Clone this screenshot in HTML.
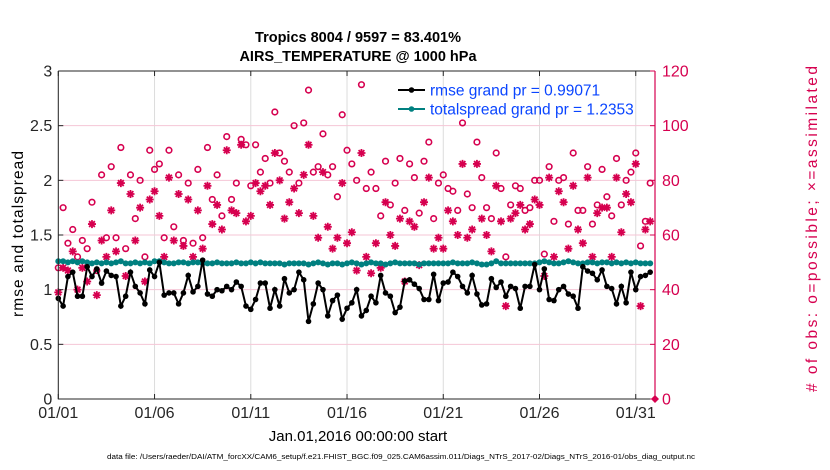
<!DOCTYPE html>
<html><head><meta charset="utf-8"><style>
body{margin:0;background:#fff;}
svg{display:block;font-family:"Liberation Sans",Arial,sans-serif;}
</style></head><body>
<svg id="chart" width="830" height="470" viewBox="0 0 830 470" xmlns="http://www.w3.org/2000/svg">
<rect width="830" height="470" fill="#fff"/>
<g id="grid"></g>
<g id="marks"></g>
<g id="axes"></g>
<text x="358" y="42" text-anchor="middle" font-size="14.5" font-weight="bold">Tropics 8004 / 9597 = 83.401%</text>
<text x="358" y="61" text-anchor="middle" font-size="14.5" font-weight="bold">AIRS_TEMPERATURE @ 1000 hPa</text>
<text transform="translate(23,234) rotate(-90)" text-anchor="middle" font-size="15.5" textLength="166" lengthAdjust="spacing">rmse and totalspread</text>
<text transform="translate(817,229) rotate(-90)" text-anchor="middle" font-size="15.5" fill="#d6004f" textLength="326" lengthAdjust="spacing"># of obs: o=possible; ×=assimilated</text>
<text x="358" y="441" text-anchor="middle" font-size="15">Jan.01,2016 00:00:00 start</text>
<text x="401" y="459" text-anchor="middle" font-size="7" textLength="588" lengthAdjust="spacingAndGlyphs">data file: /Users/raeder/DAI/ATM_forcXX/CAM6_setup/f.e21.FHIST_BGC.f09_025.CAM6assim.011/Diags_NTrS_2017-02/Diags_NTrS_2016-01/obs_diag_output.nc</text>
<g>
<line x1="398" y1="90" x2="425" y2="90" stroke="#000" stroke-width="2"/>
<circle cx="411.5" cy="90" r="2.8" fill="#000"/>
<text x="430" y="95.5" font-size="15.5" fill="#0a45ff">rmse grand pr = 0.99071</text>
<line x1="398" y1="109" x2="425" y2="109" stroke="#008080" stroke-width="2"/>
<circle cx="411.5" cy="109" r="2.8" fill="#008080"/>
<text x="430" y="114.5" font-size="15.5" fill="#0a45ff">totalspread grand pr = 1.2353</text>
</g>
</svg>
<script>
const rmse=[0.92,0.85,1.12,1.16,0.94,0.94,1.21,1.12,1.19,1.06,1.17,1.13,1.12,0.85,0.94,1.16,1.03,0.97,0.87,1.18,1.12,1.25,0.95,0.97,0.97,0.87,0.97,1.13,0.98,1.03,1.27,0.96,0.94,1.00,0.99,1.03,1.00,1.07,1.03,0.85,
0.82,0.91,1.06,1.06,0.83,1.00,0.85,1.10,0.97,1.00,1.16,1.09,0.71,0.87,1.06,1.00,0.76,0.90,0.95,0.73,0.83,0.88,1.00,0.76,0.81,0.94,0.88,1.13,0.97,0.94,0.79,0.84,1.08,1.09,1.05,1.01,0.91,0.91,1.14,0.90,1.06,1.07,1.16,1.12,
1.03,0.97,1.13,0.96,0.86,0.87,1.10,1.02,1.07,0.94,1.03,1.01,0.83,1.03,1.03,1.23,1.00,1.19,0.91,0.90,1.00,1.03,0.96,0.94,0.83,1.21,1.17,1.15,1.09,1.18,1.03,1.01,0.87,1.03,0.88,1.16,1.00,1.12,1.13,1.16];
const spread=[1.26,1.26,1.25,1.26,1.25,1.26,1.25,1.24,1.25,1.24,1.25,1.24,1.25,1.26,1.24,1.24,1.25,1.24,1.25,1.24,1.26,1.26,1.25,1.24,1.24,1.25,1.25,1.24,1.25,1.25,1.24,1.24,1.24,1.25,1.24,1.24,1.24,1.25,1.24,1.24,
1.25,1.24,1.25,1.24,1.24,1.24,1.24,1.23,1.24,1.24,1.24,1.24,1.23,1.24,1.25,1.24,1.23,1.24,1.24,1.23,1.24,1.25,1.24,1.23,1.24,1.25,1.24,1.24,1.23,1.24,1.25,1.24,1.24,1.24,1.24,1.23,1.24,1.24,1.24,1.24,1.24,1.24,1.25,1.24,
1.24,1.24,1.25,1.24,1.23,1.23,1.24,1.26,1.24,1.24,1.24,1.24,1.24,1.24,1.24,1.24,1.25,1.26,1.25,1.24,1.24,1.25,1.26,1.25,1.24,1.24,1.25,1.25,1.24,1.25,1.25,1.24,1.25,1.24,1.25,1.24,1.25,1.24,1.24,1.24];
const possible=[48,70,57,62,52,58,55,72,47,82,59,85,59,92,55,82,66,80,52,91,84,86,59,91,63,82,58,79,57,84,59,92,73,82,67,96,73,79,95,93,
78,93,83,88,79,105,90,87,83,100,79,101,113,83,85,97,82,85,74,104,91,86,80,115,77,83,77,67,87,71,79,88,69,86,81,68,87,94,66,79,82,77,76,69,
101,75,70,94,81,70,66,90,77,52,71,78,77,69,70,80,80,53,85,65,80,81,64,90,69,69,85,64,71,84,74,67,88,71,80,83,90,56,65,79];
const assimilated=[39,48,47,54,40,48,43,64,38,58,52,69,54,79,45,75,58,70,43,73,76,67,52,81,58,75,56,73,52,69,55,78,64,71,62,91,69,68,93,65,
67,79,76,78,71,90,80,66,72,77,68,82,93,67,59,83,63,55,59,79,57,61,47,90,52,46,57,48,72,60,56,66,43,65,63,49,72,81,55,59,55,69,65,60,
86,59,62,86,66,60,54,78,65,34,66,68,71,62,64,73,71,45,81,52,76,72,55,78,62,57,81,52,68,70,70,52,81,61,75,72,86,34,62,65];
const xTickLabels=["01/01","01/06","01/11","01/16","01/21","01/26","01/31"];
const xTickDays=[0,5,10,15,20,25,30];
const yTicks=[0,0.5,1,1.5,2,2.5,3];
const yTickLabels=["0","0.5","1","1.5","2","2.5","3"];
const y2Ticks=[0,20,40,60,80,100,120];
const stepDays=0.25;
const L=58.3,R=655,T=71,B=399,XMAX=31;
const MAG="#d6004f";
const NS="http://www.w3.org/2000/svg";
function sx(d){return L+(R-L)*d/XMAX;}
function sy(v){return B-(B-T)*v/3;}
function sy2(v){return B-(B-T)*v/120;}
function mk(tag,attrs,parent){const e=document.createElementNS(NS,tag);for(const k in attrs)e.setAttribute(k,attrs[k]);parent.appendChild(e);return e;}
const grid=document.getElementById('grid'),marks=document.getElementById('marks'),axes=document.getElementById('axes');
xTickDays.forEach(d=>{const l=mk('line',{x1:sx(d),x2:sx(d),y1:T,y2:B,stroke:'#dcdcdc','stroke-width':1},grid);

});
y2Ticks.forEach(v=>{if(v===0||v===120)return;const l=mk('line',{x1:L,x2:R,y1:sy2(v),y2:sy2(v),stroke:'#f5c6d6','stroke-width':1},grid);

});
possible.forEach((v,i)=>{const c=mk('circle',{cx:sx(i*stepDays),cy:sy2(v),r:2.8,fill:'none',stroke:MAG,'stroke-width':1.6},marks);

});
assimilated.forEach((v,i)=>{const x=sx(i*stepDays),y=sy2(v),s=4;
const p=mk('path',{d:`M${x-s},${y}H${x+s}M${x},${y-s}V${y+s}M${x-s*0.72},${y-s*0.72}L${x+s*0.72},${y+s*0.72}M${x-s*0.72},${y+s*0.72}L${x+s*0.72},${y-s*0.72}`,stroke:MAG,'stroke-width':1.8,fill:'none'},marks);

});
const dm=mk('path',{d:`M${sx(XMAX)},${sy2(0)-4}l4,4l-4,4l-4,-4z`,fill:MAG},marks);


const sp=mk('polyline',{points:spread.map((v,i)=>sx(i*stepDays)+','+sy(v)).join(' '),fill:'none',stroke:'#008080','stroke-width':2},marks);


spread.forEach((v,i)=>{const c=mk('circle',{cx:sx(i*stepDays),cy:sy(v),r:3,fill:'#008080'},marks);

});
const rl=mk('polyline',{points:rmse.map((v,i)=>sx(i*stepDays)+','+sy(v)).join(' '),fill:'none',stroke:'#000','stroke-width':2},marks);


rmse.forEach((v,i)=>{const c=mk('circle',{cx:sx(i*stepDays),cy:sy(v),r:2.8,fill:'#000'},marks);

});
mk('path',{d:`M${L},${T}V${B}H${R}M${L},${T}H${R}`,stroke:'#262626','stroke-width':1,fill:'none'},axes);
mk('line',{x1:R,x2:R,y1:T,y2:B,stroke:MAG,'stroke-width':1.2},axes);
yTicks.forEach((v,i)=>{mk('line',{x1:L,x2:L+5,y1:sy(v),y2:sy(v),stroke:'#262626'},axes);
const t=mk('text',{x:L-6,y:sy(v)+5.5,'text-anchor':'end','font-size':16,fill:'#262626'},axes);t.textContent=yTickLabels[i];

});
y2Ticks.forEach(v=>{mk('line',{x1:R-5,x2:R,y1:sy2(v),y2:sy2(v),stroke:MAG},axes);
const t=mk('text',{x:R+7,y:sy2(v)+5.5,'font-size':16,fill:MAG},axes);t.textContent=String(v);

});
xTickDays.forEach((d,i)=>{mk('line',{x1:sx(d),x2:sx(d),y1:B,y2:B-5,stroke:'#262626'},axes);
mk('line',{x1:sx(d),x2:sx(d),y1:T,y2:T+5,stroke:'#262626'},axes);
const t=mk('text',{x:sx(d),y:B+19,'text-anchor':'middle','font-size':16,fill:'#262626'},axes);t.textContent=xTickLabels[i];

});
</script>
</body></html>
